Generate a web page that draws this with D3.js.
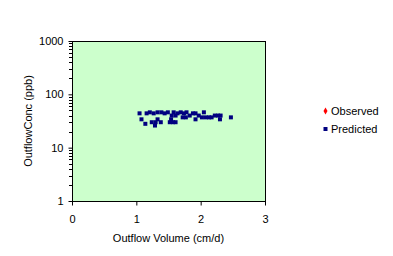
<!DOCTYPE html>
<html>
<head>
<meta charset="utf-8">
<script src="https://cdn.jsdelivr.net/npm/d3@7"></script>
<style>
  body { margin: 0; background: #fff; }
  text { font-family: Arial, "Liberation Sans", sans-serif; font-size: 11px; fill: #000; }
</style>
</head>
<body>
<svg id="chart" width="393" height="256"></svg>
<script>
// data
const predictedX = [1.05, 1.08, 1.14, 1.24, 1.29, 1.30, 1.33, 1.38, 1.16, 1.21, 1.27, 1.33, 1.39,
  1.44, 1.49, 1.52, 1.57, 1.61, 1.55, 1.61, 1.54, 1.58, 1.64, 1.69, 1.72, 1.77, 1.74, 1.78, 1.83,
  1.88, 1.92, 1.92, 1.97, 2.02, 2.05, 2.08, 2.13, 2.17, 2.22, 2.27, 2.31, 2.30, 2.47];
const predictedY = [44, 34, 28, 30, 26, 30, 34, 30, 44, 46, 44, 46, 46,
  44, 46, 30, 30, 30, 40, 40, 34, 46, 44, 46, 37, 37, 44, 46, 40,
  44, 44, 34, 40, 37, 46, 37, 37, 37, 40, 40, 40, 34, 37];
const observedX = [];
const observedY = [];
const xTicks = [0, 1, 2, 3];
const yTicks = [1, 10, 100, 1000];
const seriesNames = ["Observed", "Predicted"];
const seriesColors = ["#ff0000", "#000080"];

const svg = d3.select("#chart");
const plotLeft = 72, plotRight = 265, plotTop = 41, plotBottom = 201;

const x = d3.scaleLinear().domain([0, 3]).range([plotLeft, plotRight]);
const y = d3.scaleLog().domain([1, 1000]).range([plotBottom, plotTop]);

// plot area
svg.append("rect")
  .attr("x", plotLeft + 0.5).attr("y", plotTop + 0.5)
  .attr("width", plotRight - plotLeft).attr("height", plotBottom - plotTop)
  .attr("fill", "#ccffcc")
  .attr("stroke", "#000").attr("stroke-width", 1);

// minor y ticks
const minor = [];
for (let d = 1; d < 1000; d *= 10)
  for (let k = 2; k <= 9; k++) minor.push(d * k);
svg.append("g").selectAll("line").data(minor).enter().append("line")
  .attr("x1", plotLeft - 3).attr("x2", plotLeft)
  .attr("y1", (d) => Math.round(y(d)) + 0.5).attr("y2", (d) => Math.round(y(d)) + 0.5)
  .attr("stroke", "#000");

// y axis
const yAxis = svg.append("g")
  .attr("transform", "translate(" + (plotLeft + 0.5) + ",0)")
  .call(d3.axisLeft(y).tickValues(yTicks).tickFormat(d3.format("d")).tickSize(4).tickPadding(5));
yAxis.select(".domain").remove();
yAxis.selectAll("text").style("font-size", "11px").style("font-family", "Arial, 'Liberation Sans', sans-serif");

// x axis
const xAxis = svg.append("g")
  .attr("transform", "translate(0," + (plotBottom + 0.5) + ")")
  .call(d3.axisBottom(x).tickValues(xTicks).tickFormat(d3.format("d")).tickSize(4).tickPadding(10));
xAxis.select(".domain").remove();
xAxis.selectAll("text").style("font-size", "11px").style("font-family", "Arial, 'Liberation Sans', sans-serif");

// axis titles
svg.append("text")
  .attr("x", (plotLeft + plotRight) / 2).attr("y", 242)
  .attr("text-anchor", "middle")
  .text("Outflow Volume (cm/d)");
svg.append("text")
  .attr("transform", "translate(32," + (plotTop + plotBottom) / 2 + ") rotate(-90)")
  .attr("text-anchor", "middle")
  .text("OutflowConc (ppb)");

// points
const predicted = predictedX.map((v, i) => ({ x: v, y: predictedY[i] }));
svg.append("g").selectAll("rect").data(predicted).enter().append("rect")
  .attr("x", (d) => x(d.x) - 2).attr("y", (d) => y(d.y) - 2)
  .attr("width", 4).attr("height", 4)
  .attr("fill", seriesColors[1]);

const observed = observedX.map((v, i) => ({ x: v, y: observedY[i] }));
svg.append("g").selectAll("path").data(observed).enter().append("path")
  .attr("d", d3.symbol(d3.symbolDiamond, 20))
  .attr("transform", (d) => "translate(" + x(d.x) + "," + y(d.y) + ")")
  .attr("fill", seriesColors[0]);

// legend
const legend = svg.append("g");
seriesNames.forEach(function (name, i) {
  const ly = 111 + i * 18;
  if (i === 0) {
    legend.append("path")
      .attr("d", d3.symbol(d3.symbolDiamond, 14)())
      .attr("transform", "translate(325.5," + ly + ")")
      .attr("fill", seriesColors[i]);
  } else {
    legend.append("rect")
      .attr("x", 323.5).attr("y", ly - 2)
      .attr("width", 4).attr("height", 4)
      .attr("fill", seriesColors[i]);
  }
  legend.append("text")
    .attr("x", 331).attr("y", ly + 4)
    .text(name);
});
</script>
</body>
</html>
